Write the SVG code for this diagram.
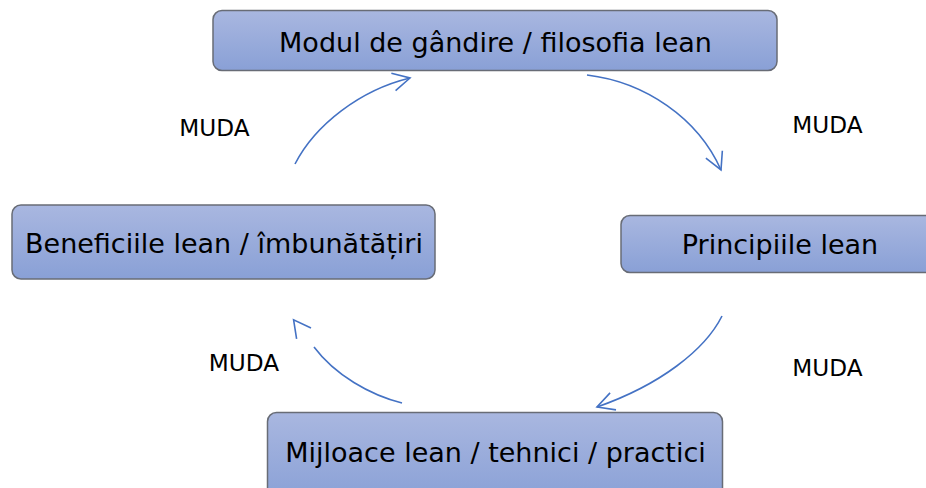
<svg xmlns="http://www.w3.org/2000/svg" width="926" height="488" viewBox="0 0 926 488">
<defs>
<linearGradient id="g" x1="0" y1="0" x2="0" y2="1">
<stop offset="0" stop-color="#a9b7e0"/>
<stop offset="1" stop-color="#89a0d6"/>
</linearGradient>
<marker id="ah" markerUnits="userSpaceOnUse" viewBox="-30 -15 40 30" refX="0" refY="0" markerWidth="40" markerHeight="30" orient="auto" overflow="visible">
<path d="M-17,-9 L0,0 L-17,9" fill="none" stroke="#4472c4" stroke-width="1.6"/>
</marker>
<marker id="ah2" markerUnits="userSpaceOnUse" viewBox="-30 -15 40 30" refX="-34" refY="0" markerWidth="40" markerHeight="30" orient="auto" overflow="visible">
<path d="M-17,-9 L0,0 L-17,9" fill="none" stroke="#4472c4" stroke-width="1.6"/>
</marker>
</defs>
<style>
.box{fill:url(#g);stroke:#686c76;stroke-width:1.5}
.t{font-family:"DejaVu Sans",Verdana,sans-serif;font-size:27px;fill:#000;text-anchor:middle}
.m{font-family:"DejaVu Sans",Verdana,sans-serif;font-size:23.2px;fill:#000;text-anchor:middle}
.c{fill:none;stroke:#4472c4;stroke-width:1.6}
</style>
<rect width="926" height="488" fill="#fff"/>
<g id="connectors">
<path class="c" d="M295,164 C315,125 360,90 410,78" marker-end="url(#ah)"/>
<path class="c" d="M587,75 C645,82 698,118 721,170" marker-end="url(#ah)"/>
<path class="c" d="M722,316 C705,350 660,385 597,407" marker-end="url(#ah)"/>
<path class="c" d="M402,403 C370,395 335,375 314,347" marker-end="url(#ah2)"/>
</g>
<g id="n1">
<rect class="box" x="213" y="10.5" width="564" height="60" rx="9"/>
<text class="t" x="495.5" y="52">Modul de gândire / filosofia lean</text>
</g>
<g id="n2">
<rect class="box" x="621" y="215.5" width="320" height="57" rx="9"/>
<text class="t" x="780" y="254">Principiile lean</text>
</g>
<g id="n3">
<rect class="box" x="267.5" y="412.5" width="455" height="90" rx="9"/>
<text class="t" x="495.5" y="462">Mijloace lean / tehnici / practici</text>
</g>
<g id="n4">
<rect class="box" x="12" y="205" width="423" height="74" rx="9"/>
<text class="t" x="224" y="253">Beneficiile lean / îmbunătățiri</text>
</g>
<g id="labels">
<text class="m" x="214.5" y="136">MUDA</text>
<text class="m" x="827.5" y="133">MUDA</text>
<text class="m" x="244" y="371">MUDA</text>
<text class="m" x="827.5" y="376">MUDA</text>
</g>
</svg>
